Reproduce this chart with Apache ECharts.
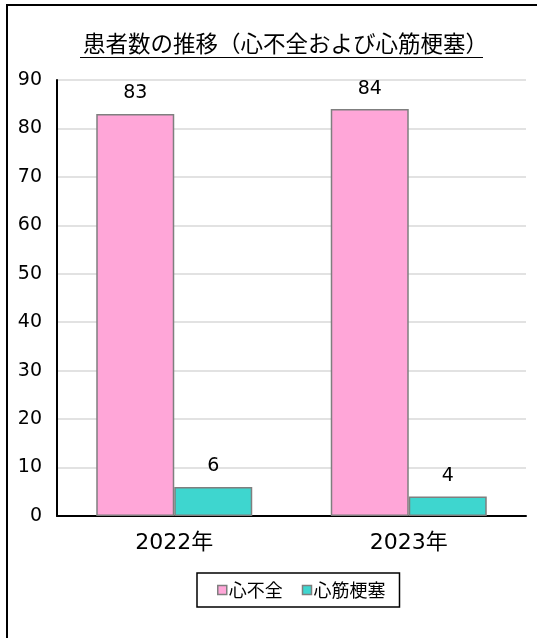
<!DOCTYPE html>
<html><head><meta charset="utf-8">
<script src="https://cdn.jsdelivr.net/npm/echarts@6/dist/echarts.min.js"></script>
<style>html,body{margin:0;padding:0;background:#fff}#c{width:537px;height:638px}</style>
</head><body><div id="c"></div>
<script>
const categories = ['2022年', '2023年'];
const seriesNames = ['心不全', '心筋梗塞'];
const heartFailure = [83, 84];
const myocardialInfarction = [6, 4];
const yTicks = [0, 10, 20, 30, 40, 50, 60, 70, 80, 90];

const FONT = '"Noto Sans CJK JP", "Noto Sans", sans-serif';
const NUMFONT = '"DejaVu Sans", "Noto Sans CJK JP", sans-serif';
const chart = echarts.init(document.getElementById('c'), null, {renderer: 'canvas'});
const label = {show: true, position: 'top', distance: 11, color: '#000', fontSize: 19, fontFamily: NUMFONT};
chart.setOption({
  animation: false,
  backgroundColor: '#fff',
  title: {
    text: '患者数の推移（心不全および心筋梗塞）',
    left: 78, top: 27,
    textStyle: {fontSize: 22.5, fontWeight: 'normal', color: '#000', fontFamily: FONT}
  },
  graphic: [
    {type: 'line', shape: {x1: 80, y1: 57.5, x2: 483, y2: 57.5}, style: {stroke: '#000', lineWidth: 1}},
    {type: 'polyline', shape: {points: [[7, 660], [7, 5], [560, 5]]}, style: {stroke: '#000', lineWidth: 2, fill: null}}
  ],
  legend: {
    data: seriesNames,
    top: 573, left: 197,
    itemWidth: 9, itemHeight: 9, itemGap: 19,
    borderColor: '#000', borderWidth: 1.5, padding: [8, 14, 8, 20],
    icon: 'rect',
    itemStyle: {borderColor: '#7f7f7f', borderWidth: 1.5},
    textStyle: {fontSize: 18, color: '#000', fontFamily: FONT, padding: [0, 0, 0, -3]}
  },
  grid: {left: 57, right: 11, top: 80, bottom: 122},
  xAxis: {
    type: 'category', data: categories,
    axisLine: {lineStyle: {color: '#000', width: 2}},
    axisTick: {show: false},
    axisLabel: {fontSize: 22, color: '#000', fontFamily: NUMFONT, margin: 16}
  },
  yAxis: {
    type: 'value', min: 0, max: 90, interval: 10,
    axisLine: {show: true, lineStyle: {color: '#000', width: 2}},
    axisTick: {show: false},
    splitLine: {lineStyle: {color: '#d9d9d9', width: 1.5}},
    axisLabel: {fontSize: 19, color: '#000', fontFamily: NUMFONT, margin: 15,
      formatter: v => yTicks.includes(v) ? String(v) : ''}
  },
  series: [
    {name: seriesNames[0], type: 'bar', data: heartFailure, barWidth: 78, barGap: '0%',
      itemStyle: {color: '#FFA6D8', borderColor: '#7f7f7f', borderWidth: 1.5}, label},
    {name: seriesNames[1], type: 'bar', data: myocardialInfarction, barWidth: 78,
      itemStyle: {color: '#3ED6CF', borderColor: '#7f7f7f', borderWidth: 1.5}, label}
  ]
});
</script></body></html>
